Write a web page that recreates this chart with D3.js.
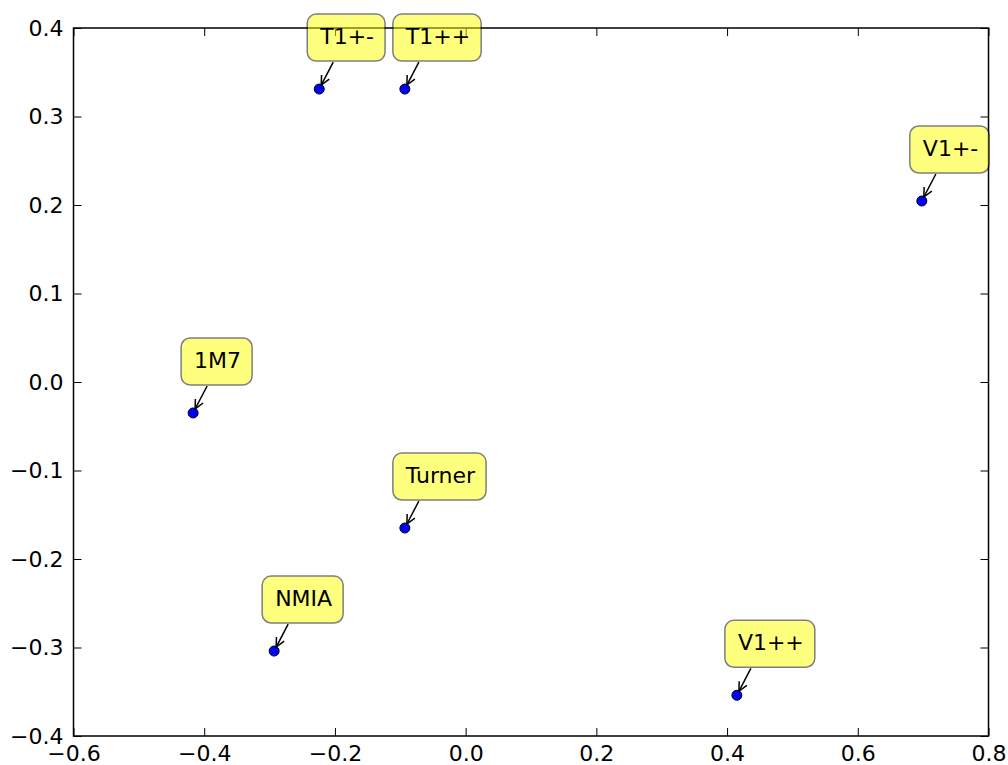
<!DOCTYPE html>
<html>
<head>
<meta charset="utf-8">
<script src="https://cdn.jsdelivr.net/npm/d3@7"></script>
<style>
  body { margin: 0; background: #fff; }
  text { font-family: "DejaVu Sans", sans-serif; }
</style>
</head>
<body>
<svg id="chart" width="1008" height="765"></svg>
<script>
// sample labels and their 2D coordinates
const labels = ["T1+-", "T1++", "V1+-", "1M7", "Turner", "NMIA", "V1++"];
const xValues = [-0.224, -0.093, 0.698, -0.417, -0.093, -0.293, 0.415];
const yValues = [0.331, 0.331, 0.2045, -0.035, -0.165, -0.304, -0.354];

const xTicks = [-0.6, -0.4, -0.2, 0.0, 0.2, 0.4, 0.6, 0.8];
const yTicks = [-0.4, -0.3, -0.2, -0.1, 0.0, 0.1, 0.2, 0.3, 0.4];

const margin = {left: 73.5, right: 19.5, top: 28, bottom: 29};
const width = 1008, height = 765;

const svg = d3.select("#chart");

const x = d3.scaleLinear().domain([-0.6, 0.8]).range([margin.left, width - margin.right]);
const y = d3.scaleLinear().domain([-0.4, 0.4]).range([height - margin.bottom, margin.top]);

const fmt = d => d3.format(".1f")(d).replace("-", "\u2212");
const tickLen = 8;

// axes, ticks pointing inward like matplotlib classic
svg.append("g")
    .attr("transform", `translate(0,${y(-0.4)})`)
    .call(d3.axisBottom(x).tickValues(xTicks).tickFormat(fmt).tickSizeInner(-tickLen).tickSizeOuter(0))
    .call(g => g.select(".domain").remove())
    .call(g => g.selectAll(".tick text").attr("y", 25).attr("dy", 0));
svg.append("g")
    .attr("transform", `translate(0,${y(0.4)})`)
    .call(d3.axisTop(x).tickValues(xTicks).tickFormat("").tickSizeInner(-tickLen).tickSizeOuter(0))
    .call(g => g.select(".domain").remove());
svg.append("g")
    .attr("transform", `translate(${x(-0.6)},0)`)
    .call(d3.axisLeft(y).tickValues(yTicks).tickFormat(fmt).tickSizeInner(-tickLen).tickSizeOuter(0).tickPadding(10))
    .call(g => g.select(".domain").remove());
svg.append("g")
    .attr("transform", `translate(${x(0.8)},0)`)
    .call(d3.axisRight(y).tickValues(yTicks).tickFormat("").tickSizeInner(-tickLen).tickSizeOuter(0))
    .call(g => g.select(".domain").remove());

svg.selectAll(".tick text")
    .attr("font-family", "DejaVu Sans, sans-serif")
    .attr("font-size", 22)
    .attr("fill", "#000");
svg.selectAll(".tick line").attr("stroke", "#000").attr("stroke-width", 1);

// frame
svg.append("rect")
    .attr("x", x(-0.6)).attr("y", y(0.4))
    .attr("width", x(0.8) - x(-0.6))
    .attr("height", y(-0.4) - y(0.4))
    .attr("fill", "none")
    .attr("stroke", "#000")
    .attr("stroke-width", 1.5);

const data = labels.map((l, i) => ({label: l, x: xValues[i], y: yValues[i]}));

// points
svg.append("g")
    .selectAll("circle")
    .data(data)
    .enter().append("circle")
    .attr("cx", d => x(d.x))
    .attr("cy", d => y(d.y))
    .attr("r", 5)
    .attr("fill", "#0000ff")
    .attr("stroke", "#000")
    .attr("stroke-width", 1);

// annotations
const ann = svg.append("g").selectAll("g")
    .data(data)
    .enter().append("g")
    .attr("transform", d => `translate(${x(d.x)},${y(d.y)})`);

ann.append("line")
    .attr("x1", 14).attr("y1", -27)
    .attr("x2", 2).attr("y2", -4)
    .attr("stroke", "#000")
    .attr("stroke-width", 1.5);
// open arrowhead at the point
ann.append("path")
    .attr("d", () => {
        const ang = Math.atan2(-4 + 27, 2 - 14);
        const len = 10, spread = 0.45;
        const a1 = ang + Math.PI - spread, a2 = ang + Math.PI + spread;
        return `M${2 + len * Math.cos(a1)},${-4 + len * Math.sin(a1)} L2,-4 L${2 + len * Math.cos(a2)},${-4 + len * Math.sin(a2)}`;
    })
    .attr("fill", "none")
    .attr("stroke", "#000")
    .attr("stroke-width", 1.5);

const box = ann.append("rect")
    .attr("x", -12).attr("y", -75)
    .attr("height", 47)
    .attr("rx", 9).attr("ry", 9)
    .attr("fill", "yellow")
    .attr("stroke", "#000")
    .attr("stroke-width", 1.5)
    .attr("opacity", 0.5);

const txt = ann.append("text")
    .attr("x", 1).attr("y", -45)
    .attr("font-size", 22)
    .attr("fill", "#000")
    .text(d => d.label);

txt.each(function(d) { d.w = this.getComputedTextLength(); });
box.attr("width", d => d.w + 24);
</script>
</body>
</html>
